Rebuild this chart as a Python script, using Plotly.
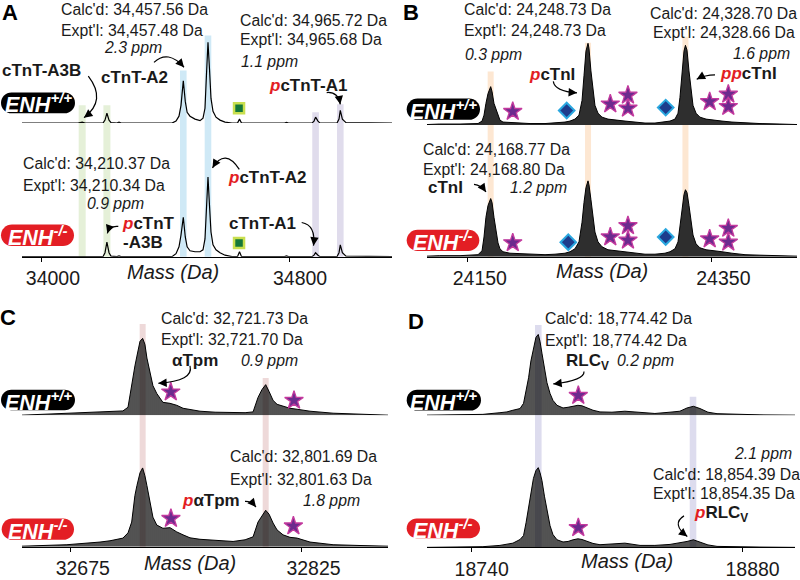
import math
import plotly.graph_objects as go

W, H = 800, 580
FONT = "Liberation Sans, Arial, Helvetica, sans-serif"
RED = "#e31e24"
INK = "#1a1a1a"

# ---------------- Panel A : cTnT ----------------
A_mass = [33935.6, 34116.8, 34130.4, 34139.5, 34197.7, 34204.2, 34210.4, 34217.2, 34223.6, 34243.0,
          34249.5, 34256.0, 34421.0, 34434.0, 34443.7, 34450.2, 34457.6, 34464.0, 34470.0, 34479.3,
          34495.5, 34511.7, 34521.4, 34527.8, 34532.7, 34537.5, 34542.4, 34547.2, 34553.7, 34563.4,
          34576.4, 34592.6, 34615.2, 34633.0, 34639.5, 34646.0, 34785.1, 34791.6, 34798.1, 34874.1,
          34880.6, 34885.7, 34893.5, 34900.0, 34955.0, 34961.5, 34965.7, 34972.4, 34984.1, 35133.0]
A_wt = [0, 0, 1, 0, 0, 3, 10, 3, 0.5, 0,
        1, 0, 0, 2, 7, 18, 43, 22, 11, 7,
        4, 2.5, 5, 15, 50, 82, 55, 25, 12, 6,
        3, 1, 0, 0, 4, 0, 0, 0.7, 0, 0,
        2, 6, 2, 0, 0, 4, 13, 4, 0.5, 0]
A_ko = [0, 0, 0.7, 0, 0, 4, 14.7, 4, 0.5, 0,
        0.7, 0, 0, 3, 10, 22, 40, 20, 10, 6,
        5, 5, 7, 18, 50, 81, 52, 25, 12, 7,
        4, 1.5, 0, 0, 5, 0, 0, 0.7, 0, 0,
        1.5, 4, 1.5, 0, 0, 4, 12, 4, 0.5, 0]
A_ticks = [34000, 34800]
A_ticklabels = ["34000", "34800"]
A_square_mass = [34638.0]
A_square_wt = [15]
A_square_ko = [14]
A_band_green = [34130.4, 34210.4]
A_band_blue = [34457.6, 34537.5]
A_band_purple = [34885.7, 34965.7]

# ---------------- Panel B : cTnI ----------------
B_mass = [24116.5, 24127.0, 24143.6, 24158.4, 24161.7, 24163.3, 24164.9, 24166.6, 24168.8, 24169.9,
          24171.5, 24173.2, 24174.8, 24176.4, 24178.9, 24184.6, 24192.9, 24201.1, 24213.4, 24221.6,
          24229.8, 24233.9, 24238.0, 24241.3, 24243.8, 24245.4, 24247.0, 24248.7, 24249.5, 24251.1,
          24252.8, 24254.4, 24256.9, 24260.2, 24265.1, 24270.9, 24279.1, 24287.3, 24295.5, 24303.7,
          24311.9, 24316.0, 24320.1, 24322.6, 24324.2, 24325.9, 24327.5, 24328.7, 24330.0, 24331.6,
          24333.3, 24334.9, 24337.4, 24340.6, 24345.6, 24350.5, 24358.7, 24366.9, 24377.6, 24389.9,
          24406.3, 24420.3]
B_wt = [0.5, 1, 1, 1.5, 4, 10, 22, 32, 39, 34,
        22, 16, 10, 5, 3, 2.5, 2, 1.5, 1.5, 2,
        3, 4, 6, 10, 25, 50, 75, 83, 78, 55,
        35, 20, 12, 8, 6, 5, 4, 3, 2, 2,
        3, 4, 6, 12, 28, 55, 75, 81, 76, 55,
        33, 20, 12, 8, 6, 5, 4, 3, 2, 1.5,
        1, 0.5]
B_ko = [0.5, 1, 1, 2, 6, 20, 40, 52, 59, 55,
        40, 25, 14, 8, 5, 3.5, 3, 2, 2, 2.5,
        3.5, 5, 8, 15, 35, 55, 70, 77, 73, 58,
        40, 25, 15, 10, 7, 6, 5, 3.5, 2.5, 2.5,
        3.5, 5, 8, 15, 32, 52, 63, 68, 65, 52,
        36, 22, 13, 9, 7, 6, 5, 3.5, 2, 1.5,
        1, 0.5]
B_ticks = [24150, 24350]
B_ticklabels = ["24150", "24350"]
B_star_mass = [24186.9, 24267.0, 24281.5, 24281.5, 24348.6, 24363.9, 24363.9]
B_star_wt = [13.7, 21.3, 30.3, 17.0, 23.7, 31.3, 18.7]
B_star_ko = [14.0, 20.0, 31.4, 16.7, 18.0, 28.7, 14.7]
B_diam_mass_wt = [24231.2, 24312.5]
B_diam_wt = [14.7, 17.7]
B_diam_mass_ko = [24232.5, 24312.5]
B_diam_ko = [14.7, 20.0]
B_bands = [24168.77, 24248.73, 24328.70]

# ---------------- Panel C : Tpm ----------------
C_mass = [32643.3, 32661.5, 32672.5, 32694.0, 32700.5, 32708.9, 32712.2, 32714.6, 32716.7, 32718.0,
          32720.0, 32721.7, 32723.2, 32724.5, 32726.5, 32728.4, 32730.9, 32734.9, 32739.5, 32743.9,
          32748.0, 32752.5, 32759.0, 32768.8, 32780.5, 32788.3, 32793.5, 32796.7, 32799.3, 32801.7,
          32803.9, 32806.5, 32809.1, 32813.0, 32817.5, 32822.1, 32830.5, 32845.5, 32863.0, 32881.2]
C_wt = [0, 1, 1.7, 3, 3.5, 4.3, 8, 32, 50, 60,
        75, 78, 72, 58, 42, 30, 22, 13, 12, 10,
        7, 5.5, 4, 3, 2.3, 2.5, 3.3, 18, 26, 31,
        24, 15, 11, 9, 7, 6, 4, 2, 0.7, 0]
C_ko = [0.5, 1.3, 2, 4.7, 6, 8.7, 14, 25, 52, 62,
        75, 80, 72, 62, 45, 30, 22, 18.7, 19.3, 15,
        12, 9, 7.5, 6.5, 5.3, 7, 10, 25, 32, 37,
        33, 24, 17, 12, 9.5, 8.7, 4.7, 2, 1.2, 0.5]
C_ticks = [32675, 32825]
C_ticklabels = ["32675", "32825"]
C_star_mass_wt = [32740.0, 32820.1]
C_star_wt = [23.4, 15.0]
C_star_mass_ko = [32740.1, 32819.7]
C_star_ko = [28.6, 21.0]
C_bands = [32721.73, 32801.69]

# ---------------- Panel D : RLCv ----------------
D_mass = [18716.9, 18728.8, 18745.8, 18754.6, 18758.2, 18761.3, 18765.0, 18766.8, 18768.1, 18769.4,
          18770.6, 18771.9, 18773.2, 18774.4, 18775.3, 18776.3, 18777.6, 18778.9, 18780.5, 18782.0,
          18784.1, 18787.2, 18789.8, 18792.4, 18794.9, 18797.0, 18799.6, 18802.7, 18806.3, 18812.5,
          18819.2, 18827.0, 18834.7, 18842.5, 18847.6, 18851.3, 18854.6, 18858.0, 18862.1, 18866.8,
          18876.1, 18889.0, 18907.1]
D_wt = [0, 0.3, 0.8, 2.5, 3.3, 5, 6.7, 12, 25, 38,
        55, 68, 79, 82, 75, 63, 48, 33, 22, 15,
        10, 7.3, 8, 9, 10, 9.5, 7.5, 5, 3.3, 3,
        4, 2.5, 1.7, 3, 4, 7.3, 9, 6.7, 3, 1.5,
        0.7, 0.3, 0]
D_ko = [0, 0.3, 0.7, 2, 3, 4.3, 8, 12, 25, 40,
        55, 70, 78, 81, 76, 68, 52, 38, 22, 13,
        7.7, 5.5, 6, 7.7, 8.7, 8, 6, 4, 2.7, 3.5,
        4.3, 2, 2, 3, 4.5, 6, 7.7, 5, 2.5, 1,
        0.5, 0.3, 0]
D_ticks = [18740, 18880]
D_ticklabels = ["18740", "18880"]
D_star_mass = [18795.1]
D_star_wt = [20.0]
D_star_ko = [20.0]
D_bands = [18774.42, 18854.39]

# ---------------- helpers ----------------
def fx(x):
    return x / W


def fy(y):
    return 1 - y / H


def P(x, y):
    return f"{fx(x):.5f},{fy(y):.5f}"


fig = go.Figure()
shapes = []
annos = []


def axname(k, kind):
    return kind if k == 1 else f"{kind}{k}"


# geometry (pixels): left, right, baseline top spectrum, baseline bottom spectrum
panels = [
    dict(mass=A_mass, wt=A_wt, ko=A_ko, xr=[33935.6, 35133.0], l=22, r=392, bt=125, bb=260.7,
         ticks=A_ticks, tt=A_ticklabels, style="line", shift=11),
    dict(mass=B_mass, wt=B_wt, ko=B_ko, xr=[24116.5, 24420.3], l=427, r=797, bt=127, bb=260.7,
         ticks=B_ticks, tt=B_ticklabels, style="fill", shift=12),
    dict(mass=C_mass, wt=C_wt, ko=C_ko, xr=[32643.3, 32881.2], l=22, r=388, bt=421.7, bb=555.3,
         ticks=C_ticks, tt=C_ticklabels, style="comb", shift=12),
    dict(mass=D_mass, wt=D_wt, ko=D_ko, xr=[18716.9, 18907.1], l=427, r=795, bt=421.7, bb=556,
         ticks=D_ticks, tt=D_ticklabels, style="comb", shift=10),
]

layout_axes = {}
for i, p in enumerate(panels):
    for j, (ys, base) in enumerate([(p["wt"], p["bt"]), (p["ko"], p["bb"])]):
        k = 2 * i + j + 1
        xa = dict(domain=[fx(p["l"]), fx(p["r"])], range=p["xr"], anchor=axname(k, "y"),
                  showgrid=False, zeroline=False, fixedrange=True)
        if j == 0:
            xa["visible"] = False
        else:
            xa.update(showline=True, linecolor="black", linewidth=1, ticks="outside",
                      ticklen=4, tickwidth=1, tickcolor="black", tickvals=p["ticks"],
                      ticktext=p["tt"], tickfont=dict(family=FONT, size=19.5, color=INK),
                      ticklabelshift=p["shift"])
        ya = dict(domain=[fy(base), fy(base - 100)], range=[0, 100], anchor=axname(k, "x"),
                  visible=False, fixedrange=True)
        layout_axes["xaxis" if k == 1 else f"xaxis{k}"] = xa
        layout_axes["yaxis" if k == 1 else f"yaxis{k}"] = ya
        tr = dict(x=p["mass"], y=ys, mode="lines", xaxis=axname(k, "x"), yaxis=axname(k, "y"),
                  cliponaxis=False, hoverinfo="skip")
        if p["style"] == "line":
            tr["line"] = dict(color="black", width=1.2)
        elif p["style"] == "fill":
            tr.update(line=dict(color="black", width=1), fill="tozeroy", fillcolor="#2e2e2e")
        else:
            tr.update(line=dict(color="black", width=1), fill="tozeroy",
                      fillpattern=dict(shape="|", size=2, solidity=0.7, fgcolor="black"))
        fig.add_trace(go.Scatter(**tr))


def markers(k, xs, ys, kind):
    if kind == "star":
        m = dict(symbol="star", size=14, color="#6c2b8e", line=dict(color="#c43a9e", width=1.3))
    elif kind == "diamond":
        m = dict(symbol="diamond", size=12, color="#1d3c8c", line=dict(color="#2aa7df", width=2))
    else:
        m = dict(symbol="square", size=10, color="#13773a", line=dict(color="#c9df4f", width=2.5))
    fig.add_trace(go.Scatter(x=xs, y=ys, mode="markers", marker=m, xaxis=axname(k, "x"),
                             yaxis=axname(k, "y"), cliponaxis=False, hoverinfo="skip"))


markers(1, A_square_mass, A_square_wt, "square")
markers(2, A_square_mass, A_square_ko, "square")
markers(3, B_star_mass, B_star_wt, "star")
markers(4, B_star_mass, B_star_ko, "star")
markers(3, B_diam_mass_wt, B_diam_wt, "diamond")
markers(4, B_diam_mass_ko, B_diam_ko, "diamond")
markers(5, C_star_mass_wt, C_star_wt, "star")
markers(6, C_star_mass_ko, C_star_ko, "star")
markers(7, D_star_mass, D_star_wt, "star")
markers(8, D_star_mass, D_star_ko, "star")


# highlight bands
def bands(k, masses, top_px, bottom_px, color, half=3.3):
    for m, t in zip(masses, top_px):
        shapes.append(dict(type="rect", xref=axname(k, "x"), yref="paper", xsizemode="pixel",
                           xanchor=m, x0=-half, x1=half, y0=fy(bottom_px), y1=fy(t),
                           fillcolor=color, line=dict(width=0), layer="below"))


bands(2, A_band_green, [107, 107], 260.7, "#e5f0d8", 3.5)
bands(2, A_band_blue, [71.7, 36], 260.7, "#cfe9f6", 3.3)
bands(2, A_band_purple, [114, 106], 260.7, "#e0dcec", 3.3)
bands(4, B_bands, [72.7, 43.3, 37.3], 260.7, "#fde7d2", 3.0)
bands(6, C_bands, [329, 384], 555.3, "#eed9d9", 3.0)
bands(8, D_bands, [330, 403], 556, "#dddcee", 3.3)

BODY = 15.8
BOLD = 17


# text helper
def txt(x, y, s, size=BODY, anchor="left", color=INK):
    annos.append(dict(x=fx(x), y=fy(y), xref="paper", yref="paper", text=s, showarrow=False,
                      xanchor=anchor, yanchor="middle", borderpad=0,
                      font=dict(family=FONT, size=size, color=color)))


def lab(s):
    return f"<b>{s}</b>"


def plab(prefix, rest):
    return f"<b><span style='color:{RED}'><i>{prefix}</i></span>{rest}</b>"


def it(s):
    return f"<i>{s}</i>"


# panel letters
for L, x, y in [("A", 10, 12.5), ("B", 411, 13), ("C", 8, 322), ("D", 416, 327)]:
    txt(x, y, f"<b>{L}</b>", size=22, anchor="center", color="black")

# Panel A texts
txt(60, 10, "Calc'd: 34,457.56 Da")
txt(60, 31, "Expt'l: 34,457.48 Da")
txt(132.5, 48.5, it("2.3 ppm"), anchor="center")
txt(239, 20.5, "Calc'd: 34,965.72 Da")
txt(239, 40.5, "Expt'l: 34,965.68 Da")
txt(240, 62, it("1.1 ppm"))
txt(1, 71.7, lab("cTnT-A3B"), size=BOLD)
txt(100, 78.3, lab("cTnT-A2"), size=BOLD)
txt(268, 87.3, plab("p", "cTnT-A1"), size=BOLD)
txt(22, 166, "Calc'd: 34,210.37 Da")
txt(22, 188.5, "Expt'l: 34,210.34 Da")
txt(86, 206.5, it("0.9 ppm"))
txt(121, 227.3, plab("p", "cTnT"), size=BOLD)
txt(122, 246, lab("-A3B"), size=BOLD)
txt(227, 180.7, plab("p", "cTnT-A2"), size=BOLD)
txt(228, 227.3, lab("cTnT-A1"), size=BOLD)
txt(172.5, 276.7, it("Mass (Da)"), size=20, anchor="center")

# Panel B texts
txt(462.5, 10, "Calc'd: 24,248.73 Da")
txt(462.5, 31, "Expt'l: 24,248.73 Da")
txt(463.5, 55, it("0.3 ppm"))
txt(798, 13.3, "Calc'd: 24,328.70 Da", anchor="right")
txt(796, 33.5, "Expt'l: 24,328.66 Da", anchor="right")
txt(732, 54, it("1.6 ppm"))
txt(528, 76, plab("p", "cTnI"), size=BOLD)
txt(719, 75, plab("pp", "cTnI"), size=BOLD)
txt(422, 151.7, "Calc'd: 24,168.77 Da")
txt(422, 171.7, "Expt'l: 24,168.80 Da")
txt(427, 190, lab("cTnI"), size=BOLD)
txt(509, 190, it("1.2 ppm"))
txt(601.7, 275, it("Mass (Da)"), size=20, anchor="center")

# Panel C texts
txt(160, 323.3, "Calc'd: 32,721.73 Da")
txt(160, 345, "Expt'l: 32,721.70 Da")
txt(171, 366, lab("αTpm"), size=BOLD)
txt(240, 366, it("0.9 ppm"))
txt(228.5, 463.3, "Calc'd: 32,801.69 Da")
txt(228.5, 486.7, "Expt'l: 32,801.63 Da")
txt(181, 508.3, plab("p", "αTpm"), size=BOLD)
txt(302, 508.3, it("1.8 ppm"))
txt(190, 571.7, it("Mass (Da)"), size=20, anchor="center")

# Panel D texts
txt(544, 323.3, "Calc'd: 18,774.42 Da")
txt(544, 346, "Expt'l: 18,774.42 Da")
txt(565, 367.3, lab("RLC<sub>V</sub>"), size=BOLD)
txt(616, 366, it("0.2 ppm"))
txt(793.3, 460.7, it("2.1 ppm"), anchor="right")
txt(652, 481.7, "Calc'd: 18,854.39 Da")
txt(652, 501.7, "Expt'l: 18,854.35 Da")
txt(692.5, 521.7, plab("p", "RLC<sub>V</sub>"), size=BOLD)
txt(626.7, 570, it("Mass (Da)"), size=20, anchor="center")


# ENH badges
def badge(x0, y0, x1, y1, color, sup):
    r = (y1 - y0) / 2
    k = 0.5523 * r
    path = (f"M {P(x0 + r, y0)} L {P(x1 - r, y0)} "
            f"C {P(x1 - r + k, y0)} {P(x1, y0 + r - k)} {P(x1, y0 + r)} "
            f"C {P(x1, y0 + r + k)} {P(x1 - r + k, y1)} {P(x1 - r, y1)} "
            f"L {P(x0 + r, y1)} "
            f"C {P(x0 + r - k, y1)} {P(x0, y0 + r + k)} {P(x0, y0 + r)} "
            f"C {P(x0, y0 + r - k)} {P(x0 + r - k, y0)} {P(x0 + r, y0)} Z")
    shapes.append(dict(type="path", xref="paper", yref="paper", path=path, fillcolor=color,
                       line=dict(width=0), layer="above"))
    txt((x0 + x1) / 2, (y0 + y1) / 2 + 0.5, f"<b><i>ENH<sup>{sup}</sup></i></b>", size=21.5,
        anchor="center", color="white")


badge(1, 94, 75, 115, "black", "+/+")
badge(1, 228, 74, 250, RED, "-/-")
badge(406.7, 100, 480, 121.7, "black", "+/+")
badge(406.7, 233.3, 479.3, 255, RED, "-/-")
badge(1, 396, 75, 416.7, "black", "+/+")
badge(1.7, 526.7, 74, 548.3, RED, "-/-")
badge(406.7, 396, 481, 417, "black", "+/+")
badge(406.7, 526.7, 480, 546.7, RED, "-/-")


# curved arrows
def arrow(p0, c, p1):
    shapes.append(dict(type="path", xref="paper", yref="paper",
                       path=f"M {P(*p0)} Q {P(*c)} {P(*p1)}",
                       line=dict(color="black", width=1.2), layer="above"))
    dx, dy = c[0] - p1[0], c[1] - p1[1]
    n = math.hypot(dx, dy) or 1
    annos.append(dict(x=fx(p1[0]), y=fy(p1[1]), xref="paper", yref="paper", text="",
                      showarrow=True, ax=dx / n * 7, ay=dy / n * 7, arrowhead=2, arrowsize=1.4,
                      arrowwidth=1.2, arrowcolor="black"))


arrow((88.3, 77.3), (107, 102), (84, 119.5))
arrow((154, 63.3), (168, 50), (184, 68.3))
arrow((326.7, 94), (338, 93), (340.3, 106))
arrow((118.3, 230), (110, 229), (107.3, 237))
arrow((239.3, 172), (225, 150), (212.5, 170.5))
arrow((301.7, 226), (316, 228.6), (313.5, 249.5))
arrow((553.3, 82.7), (554.7, 92.9), (577, 94.3))
arrow((715, 76), (705, 76), (696.7, 80.5))
arrow((474, 187.3), (481, 188), (486, 195))
arrow((190, 371.7), (194, 387), (158.3, 389.3))
arrow((245, 509.3), (251, 509), (256, 515))
arrow((584, 377.3), (584.7, 386.3), (553.3, 390))
arrow((684, 524), (671, 532), (687.3, 545))

fig.update_layout(
    width=W, height=H, margin=dict(l=0, r=0, t=0, b=0),
    paper_bgcolor="white", plot_bgcolor="rgba(0,0,0,0)",
    showlegend=False, shapes=shapes, annotations=annos,
    font=dict(family=FONT, color=INK),
    **layout_axes,
)

fig.write_html("out.html", config={"displayModeBar": False, "staticPlot": True},
               post_script="document.body.style.margin='0px';document.body.style.padding='0px';")
